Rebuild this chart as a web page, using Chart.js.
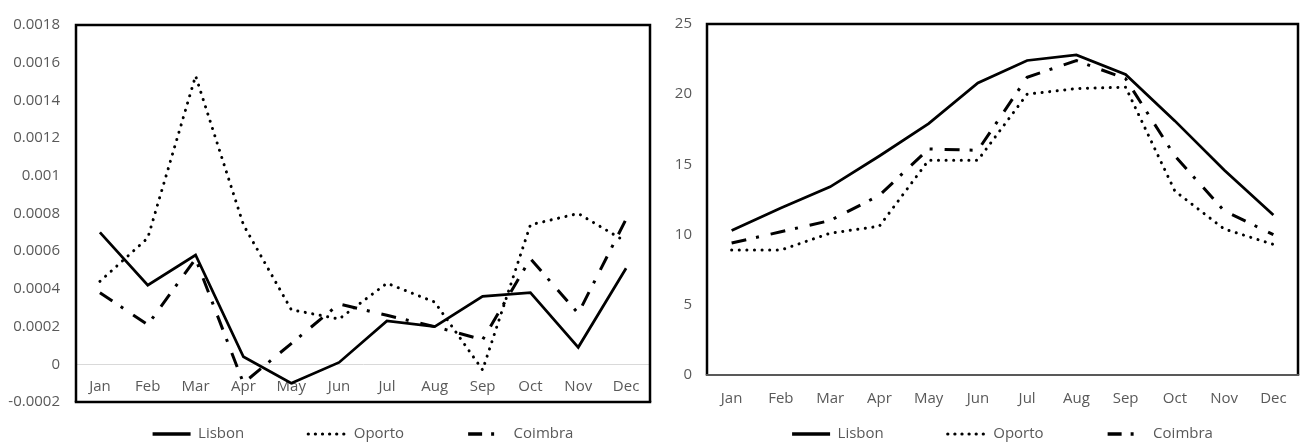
<!DOCTYPE html>
<html>
<head>
<meta charset="utf-8">
<title>Lisbon, Oporto, Coimbra</title>
<script src="https://cdn.jsdelivr.net/npm/chart.js@4.4.1/dist/chart.umd.min.js"></script>
<style>
  html, body { margin: 0; padding: 0; background: #fff; }
  .row { display: flex; width: 1304px; height: 445px; }
  canvas { display: block; }
</style>
</head>
<body>
<div class="row">
  <canvas id="leftChart" width="655" height="445"></canvas>
  <canvas id="rightChart" width="649" height="445"></canvas>
</div>
<script>
// ---- data -----------------------------------------------------------------
const MONTHS = ['Jan', 'Feb', 'Mar', 'Apr', 'May', 'Jun', 'Jul', 'Aug', 'Sep', 'Oct', 'Nov', 'Dec'];
const CITIES = ['Lisbon', 'Oporto', 'Coimbra'];

// left panel
const LISBON_LEFT  = [0.00070, 0.00042, 0.00058, 0.00004, -0.00010, 0.00001, 0.00023, 0.00020, 0.00036, 0.00038, 0.00009, 0.00051];
const OPORTO_LEFT  = [0.00044, 0.00067, 0.00153, 0.00074, 0.00029, 0.00024, 0.00043, 0.00033, -0.00003, 0.00074, 0.00080, 0.00065];
const COIMBRA_LEFT = [0.00038, 0.00021, 0.00056, -0.00010, 0.00011, 0.00032, 0.00026, 0.00020, 0.00013, 0.00056, 0.00027, 0.00077];
const LEFT_TICKS = [-0.0002, 0, 0.0002, 0.0004, 0.0006, 0.0008, 0.001, 0.0012, 0.0014, 0.0016, 0.0018];

// right panel
const LISBON_RIGHT  = [10.3, 11.9, 13.4, 15.6, 17.9, 20.8, 22.4, 22.8, 21.4, 18.1, 14.6, 11.4];
const OPORTO_RIGHT  = [8.9, 8.9, 10.1, 10.6, 15.3, 15.3, 20.0, 20.4, 20.5, 13.1, 10.4, 9.3];
const COIMBRA_RIGHT = [9.4, 10.2, 11.0, 12.8, 16.1, 16.0, 21.2, 22.4, 21.1, 15.6, 11.7, 10.0];
const RIGHT_TICKS = [0, 5, 10, 15, 20, 25];

// ---- styles ---------------------------------------------------------------
const TEXT = '#595959';
const LINE_STYLES = [
  { borderWidth: 2.75, borderDash: [], borderCapStyle: 'butt', legendDash: [], legendWidth: 3.5 },
  { borderWidth: 3, borderDash: [0.1, 7.5], borderCapStyle: 'round', legendDash: [0.1, 7], legendWidth: 3.2 },
  { borderWidth: 3, borderDash: [15, 10, 3, 12], borderCapStyle: 'butt', legendDash: [14, 9, 3, 30], legendWidth: 3.5 },
];

Chart.defaults.font.family = "'Open Sans', 'Noto Sans', sans-serif";
Chart.defaults.font.size = 15;
Chart.defaults.color = TEXT;

// black box round the plot area (bottom edge can differ)
const plotFrame = {
  id: 'plotFrame',
  beforeDatasetsDraw(chart, args, opts) {
    const { ctx, chartArea: a } = chart;
    ctx.save();
    ctx.lineWidth = opts.width;
    ctx.strokeStyle = opts.color;
    ctx.beginPath();
    ctx.moveTo(a.left, a.bottom);
    ctx.lineTo(a.left, a.top);
    ctx.lineTo(a.right, a.top);
    ctx.lineTo(a.right, a.bottom);
    ctx.stroke();
    ctx.beginPath();
    ctx.lineWidth = opts.bottomWidth;
    ctx.strokeStyle = opts.bottomColor;
    ctx.moveTo(a.left - opts.width / 2, a.bottom);
    ctx.lineTo(a.right + opts.width / 2, a.bottom);
    ctx.stroke();
    ctx.restore();
  },
};

// centre the legend under the plot area and put its text row at opts.y
const legendPlacer = {
  id: 'legendPlacer',
  afterLayout(chart, args, opts) {
    const lg = chart.legend;
    if (!lg) return;
    const mid = (chart.chartArea.left + chart.chartArea.right) / 2;
    lg.left = mid - chart.width;
    lg.right = mid + chart.width;
    const labels = chart.options.plugins.legend.labels;
    lg.top = opts.y - labels.padding - labels.font.size / 2;
  },
};

function buildDatasets(values) {
  return values.map((data, i) => ({
    label: CITIES[i],
    data: data,
    borderColor: '#000000',
    backgroundColor: '#000000',
    borderWidth: LINE_STYLES[i].borderWidth,
    borderDash: LINE_STYLES[i].borderDash,
    borderCapStyle: LINE_STYLES[i].borderCapStyle,
    borderJoinStyle: 'miter',
    pointRadius: 0,
    pointHoverRadius: 0,
    tension: 0,
    fill: false,
  }));
}

function legendOptions(maxHeight) {
  return {
    position: 'bottom',
    maxHeight: maxHeight,
    labels: {
      color: TEXT,
      font: { size: 15 },
      usePointStyle: true,
      pointStyleWidth: 38,
      padding: 64,
      generateLabels(chart) {
        const items = Chart.defaults.plugins.legend.labels.generateLabels(chart);
        items.forEach((it) => {
          const s = LINE_STYLES[it.datasetIndex];
          it.pointStyle = 'line';
          it.rotation = 180;
          it.lineDash = s.legendDash;
          it.lineCap = s.borderCapStyle;
          it.lineWidth = s.legendWidth;
          it.strokeStyle = '#000000';
          it.fillStyle = '#000000';
        });
        return items;
      },
    },
  };
}

function fixedTicks(list) {
  return function (scale) {
    scale.ticks = list.map((v) => ({ value: v }));
  };
}

// ---- left chart -----------------------------------------------------------
new Chart(document.getElementById('leftChart'), {
  type: 'line',
  data: {
    labels: MONTHS,
    datasets: buildDatasets([LISBON_LEFT, OPORTO_LEFT, COIMBRA_LEFT]),
  },
  plugins: [plotFrame, legendPlacer],
  options: {
    responsive: false,
    animation: false,
    layout: { padding: { left: 0, right: 5, top: 13, bottom: 0 } },
    plugins: {
      legend: legendOptions(43),
      tooltip: { enabled: false },
      plotFrame: { width: 2.5, color: '#000000', bottomWidth: 2.5, bottomColor: '#000000' },
      legendPlacer: { y: 434 },
    },
    scales: {
      x: {
        type: 'category',
        position: { y: 0 },
        offset: true,
        grid: { display: false, drawTicks: false },
        border: { display: true, color: '#d9d9d9', width: 1 },
        ticks: { padding: 13, maxRotation: 0, autoSkip: false },
      },
      y: {
        type: 'linear',
        min: -0.0002,
        max: 0.0018,
        afterBuildTicks: fixedTicks(LEFT_TICKS),
        afterFit(scale) { scale.width = 76; },
        grid: { display: false, drawTicks: false },
        border: { display: false },
        ticks: {
          padding: 16,
          callback: (v) => String(parseFloat(Number(v).toFixed(4))),
        },
      },
    },
  },
});

// ---- right chart ----------------------------------------------------------
new Chart(document.getElementById('rightChart'), {
  type: 'line',
  data: {
    labels: MONTHS,
    datasets: buildDatasets([LISBON_RIGHT, OPORTO_RIGHT, COIMBRA_RIGHT]),
  },
  plugins: [plotFrame, legendPlacer],
  options: {
    responsive: false,
    animation: false,
    layout: { padding: { left: 0, right: 6, top: 16, bottom: 0 } },
    plugins: {
      legend: legendOptions(30),
      tooltip: { enabled: false },
      plotFrame: { width: 2.5, color: '#000000', bottomWidth: 2, bottomColor: '#595959' },
      legendPlacer: { y: 434 },
    },
    scales: {
      x: {
        type: 'category',
        position: 'bottom',
        offset: true,
        afterFit(scale) { scale.height = 40; },
        grid: { display: false, drawTicks: false },
        border: { display: false },
        ticks: { padding: 15, maxRotation: 0, autoSkip: false },
      },
      y: {
        type: 'linear',
        min: 0,
        max: 25,
        afterBuildTicks: fixedTicks(RIGHT_TICKS),
        afterFit(scale) { scale.width = 52; },
        grid: { display: false, drawTicks: false },
        border: { display: false },
        ticks: { padding: 15 },
      },
    },
  },
});
</script>
</body>
</html>
